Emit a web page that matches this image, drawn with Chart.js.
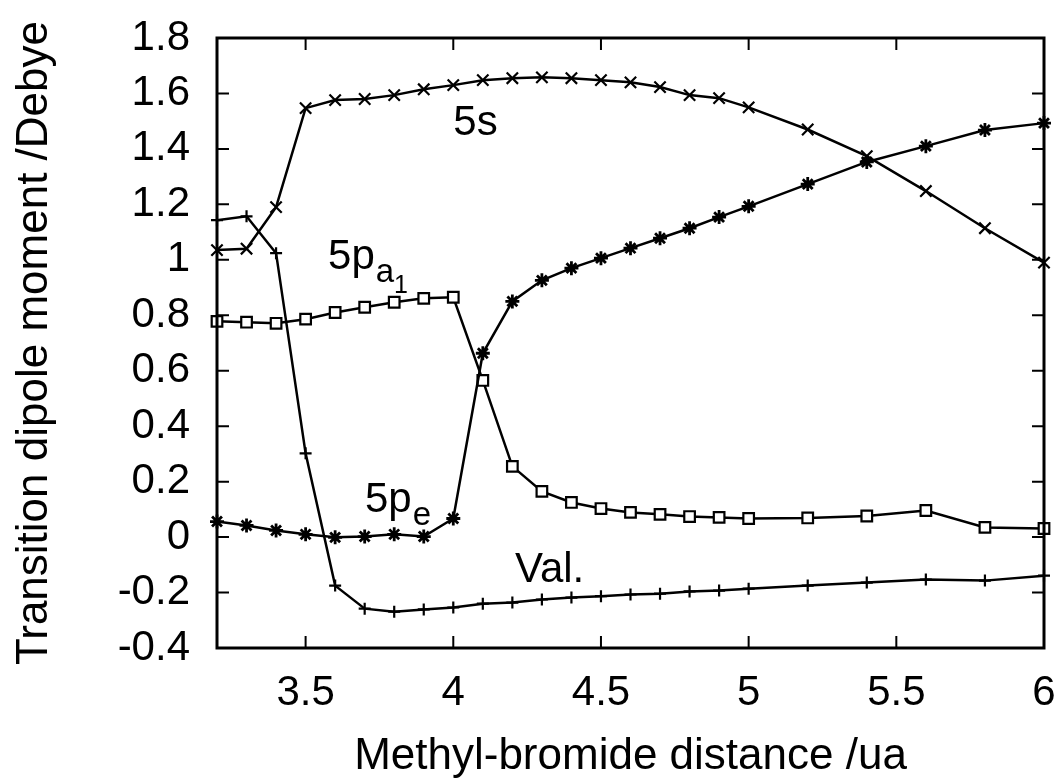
<!DOCTYPE html>
<html>
<head>
<meta charset="utf-8">
<script src="https://cdn.jsdelivr.net/npm/chart.js@4.4.1/dist/chart.umd.min.js"></script>
<style>
html,body{margin:0;padding:0;background:#fff;}
#wrap{width:1062px;height:781px;}
</style>
</head>
<body>
<div id="wrap"><canvas id="c" width="1062" height="781"></canvas></div>
<script>
// ---- data ----
const distance = [3.2,3.3,3.4,3.5,3.6,3.7,3.8,3.9,4.0,4.1,4.2,4.3,4.4,4.5,4.6,4.7,4.8,4.9,5.0,5.2,5.4,5.6,5.8,6.0];
const state5s  = [1.035,1.040,1.190,1.547,1.576,1.580,1.594,1.615,1.630,1.648,1.655,1.658,1.655,1.648,1.640,1.623,1.594,1.583,1.550,1.470,1.374,1.248,1.114,0.990];
const state5pe = [0.056,0.042,0.024,0.010,-0.001,0.002,0.010,0.002,0.067,0.663,0.850,0.926,0.970,1.006,1.042,1.078,1.114,1.154,1.193,1.273,1.353,1.410,1.468,1.493];
const state5pa1= [0.778,0.775,0.771,0.786,0.810,0.829,0.847,0.861,0.865,0.565,0.255,0.165,0.125,0.103,0.089,0.082,0.074,0.071,0.067,0.069,0.076,0.096,0.035,0.031];
const stateVal = [1.143,1.157,1.024,0.302,-0.175,-0.258,-0.269,-0.261,-0.254,-0.240,-0.236,-0.225,-0.218,-0.213,-0.207,-0.204,-0.196,-0.193,-0.186,-0.175,-0.164,-0.153,-0.157,-0.139];

const xTickValues = [3.5,4,4.5,5,5.5,6];
const xTickLabels = ['3.5','4','4.5','5','5.5','6'];
const yTickValues = [-0.4,-0.2,0,0.2,0.4,0.6,0.8,1.0,1.2,1.4,1.6,1.8];
const yTickLabels = ['-0.4','-0.2','0','0.2','0.4','0.6','0.8','1','1.2','1.4','1.6','1.8'];

const xTitle = 'Methyl-bromide distance /ua';
const yTitle = 'Transition dipole moment /Debye';

// curve labels: main text, subscript, sub-subscript, anchored in data coordinates
const curveLabels = [
  {main:'5s',  sub:'',  subsub:'', x:4.0,   y:1.45},
  {main:'5p',  sub:'a', subsub:'1', x:3.576, y:0.967},
  {main:'5p',  sub:'e', subsub:'', x:3.701, y:0.09},
  {main:'Val.',sub:'',  subsub:'', x:4.209, y:-0.162}
];

const FONT = '"Liberation Sans", Arial, Helvetica, sans-serif';

function pts(ys){ return distance.map((x,i)=>({x:x, y:ys[i]})); }

const frame = {
  id:'frame',
  afterDatasetsDraw(chart){
    const {ctx, chartArea:a, scales:{x, y}} = chart;
    ctx.save();
    ctx.strokeStyle = '#000';
    ctx.lineWidth = 2;
    const tl = 12;
    ctx.beginPath();
    x.ticks.forEach(t=>{
      const px = x.getPixelForValue(t.value);
      ctx.moveTo(px, a.bottom); ctx.lineTo(px, a.bottom - tl);
      ctx.moveTo(px, a.top); ctx.lineTo(px, a.top + tl);
    });
    y.ticks.forEach(t=>{
      const py = y.getPixelForValue(t.value);
      ctx.moveTo(a.left, py); ctx.lineTo(a.left + tl, py);
      ctx.moveTo(a.right, py); ctx.lineTo(a.right - tl, py);
    });
    ctx.stroke();
    ctx.lineWidth = 3;
    ctx.strokeRect(a.left, a.top, a.right - a.left, a.bottom - a.top);
    ctx.restore();
  },
  afterDraw(chart){
    const {ctx, scales:{x, y}} = chart;
    ctx.save();
    ctx.fillStyle = '#000';
    ctx.textBaseline = 'alphabetic';
    ctx.textAlign = 'left';
    curveLabels.forEach(l=>{
      let px = x.getPixelForValue(l.x);
      const py = y.getPixelForValue(l.y);
      ctx.font = '42px ' + FONT;
      ctx.fillText(l.main, px, py);
      px += ctx.measureText(l.main).width + 1;
      if (l.sub){
        ctx.font = '33px ' + FONT;
        ctx.fillText(l.sub, px, py + 13);
        px += ctx.measureText(l.sub).width;
      }
      if (l.subsub){
        ctx.font = '25px ' + FONT;
        ctx.fillText(l.subsub, px, py + 24);
      }
    });
    ctx.restore();
  }
};

const common = {borderColor:'#000', backgroundColor:'#000', borderWidth:2.5, pointBorderWidth:2.2, showLine:true, fill:false, tension:0, clip:false};

new Chart(document.getElementById('c'), {
  type:'scatter',
  data:{
    datasets:[
      Object.assign({label:'5s', data:pts(state5s), pointStyle:'crossRot', pointRadius:8}, common),
      Object.assign({label:'5pe', data:pts(state5pe), pointStyle:'star', pointRadius:7}, common, {pointBorderWidth:2.8}),
      Object.assign({label:'5pa1', data:pts(state5pa1), pointStyle:'rect', pointRadius:7.5, pointBackgroundColor:'#fff'}, common, {backgroundColor:'#fff'}),
      Object.assign({label:'Val.', data:pts(stateVal), pointStyle:'cross', pointRadius:6}, common)
    ]
  },
  options:{
    responsive:false,
    animation:false,
    devicePixelRatio:1,
    layout:{padding:{top:38, right:18, left:0, bottom:0}},
    plugins:{legend:{display:false}, tooltip:{enabled:false}},
    scales:{
      x:{
        type:'linear', min:3.2, max:6,
        grid:{display:false, drawTicks:false},
        border:{display:false},
        afterBuildTicks:s=>{ s.ticks = xTickValues.map(v=>({value:v})); },
        afterFit:s=>{ s.height = 133; s.paddingLeft = 0; s.paddingRight = 0; },
        ticks:{autoSkip:false, maxRotation:0, padding:20, color:'#000', font:{family:FONT, size:42, lineHeight:1.2},
               callback:(v,i)=>xTickLabels[i]},
        title:{display:true, text:xTitle, color:'#000', font:{family:FONT, size:44, lineHeight:1}, padding:{top:0, bottom:2}}
      },
      y:{
        type:'linear', min:-0.4, max:1.8,
        grid:{display:false, drawTicks:false},
        border:{display:false},
        afterBuildTicks:s=>{ s.ticks = yTickValues.map(v=>({value:v})); },
        afterFit:s=>{ s.width = 217; s.paddingTop = 0; s.paddingBottom = 0; },
        ticks:{autoSkip:false, padding:27, color:'#000', font:{family:FONT, size:42, lineHeight:1.2},
               callback:(v,i)=>yTickLabels[i]},
        title:{display:true, text:yTitle, color:'#000', font:{family:FONT, size:44, lineHeight:1}, padding:{top:13, bottom:0}}
      }
    }
  },
  plugins:[frame]
});
</script>
</body>
</html>
